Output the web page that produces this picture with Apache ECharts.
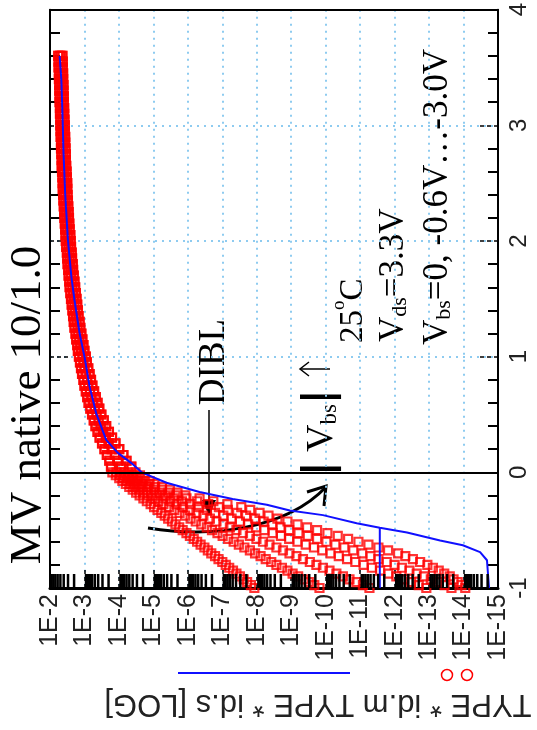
<!DOCTYPE html>
<html>
<head>
<meta charset="utf-8">
<script src="https://cdn.jsdelivr.net/npm/echarts@6/dist/echarts.min.js"></script>
<style>
    html, body { margin: 0; padding: 0; background: #fff; }
    #chart { width: 537px; height: 730px; }
</style>
</head>
<body>
<div id="chart"></div>
<script>
// Id-Vgs sweep, plotted turned on its side: Vgs runs up the right axis,
// log10(Id) runs along the bottom (1E-2 at the left, 1E-15 at the right)

// decades shown on the current axis (tick labels read 1E<n>)
var DECADES = [-2, -3, -4, -5, -6, -7, -8, -9, -10, -11, -12, -13, -14, -15];
var MINOR_MULT = [2, 3, 4, 5, 6, 7, 8, 9];

// gate sweep, on-state part (shared by all Vbs)
var VGS_ON = [3.6, 3.55, 3.5, 3.45, 3.4, 3.35, 3.3, 3.25, 3.2, 3.15, 3.1, 3.05, 3.0, 2.95, 2.9, 2.85, 2.8, 2.75,
    2.7, 2.65, 2.6, 2.55, 2.5, 2.45, 2.4, 2.35, 2.3, 2.25, 2.2, 2.15, 2.1, 2.05, 2.0, 1.95, 1.9, 1.85, 1.8, 1.75,
    1.7, 1.65, 1.6, 1.55, 1.5, 1.45, 1.4, 1.35, 1.3, 1.25, 1.2, 1.15, 1.1, 1.05, 1.0, 0.95, 0.9, 0.85, 0.8, 0.75,
    0.7, 0.65, 0.6, 0.55, 0.5, 0.45, 0.4, 0.35, 0.3, 0.25, 0.2, 0.15, 0.1, 0.05];
// gate sweep, sub-threshold part
var VGS_SUB = [0, -0.025, -0.05, -0.075, -0.1, -0.125, -0.15, -0.175, -0.2, -0.225, -0.25, -0.275, -0.3,
    -0.325, -0.35, -0.375, -0.4, -0.425, -0.45, -0.475, -0.5, -0.525, -0.55, -0.575, -0.6, -0.625, -0.65,
    -0.675, -0.7, -0.725, -0.75, -0.775, -0.8, -0.825, -0.85, -0.875, -0.9, -0.925, -0.95, -0.975, -1.0];

// measured id.m, log10(A), on-state: low |Vbs| / mid / high |Vbs|
var ON_HI = [-2.24, -2.25, -2.25, -2.26, -2.26, -2.27, -2.27, -2.28, -2.28, -2.29,
    -2.29, -2.30, -2.30, -2.31, -2.31, -2.32, -2.32, -2.33, -2.34, -2.34,
    -2.35, -2.36, -2.37, -2.37, -2.38, -2.39, -2.40, -2.41, -2.42, -2.43,
    -2.44, -2.45, -2.46, -2.47, -2.49, -2.50, -2.51, -2.53, -2.54, -2.56,
    -2.57, -2.59, -2.61, -2.63, -2.65, -2.67, -2.69, -2.71, -2.74, -2.76,
    -2.79, -2.81, -2.84, -2.87, -2.90, -2.93, -2.97, -3.00, -3.04, -3.08,
    -3.12, -3.17, -3.22, -3.27, -3.32, -3.38, -3.44, -3.51, -3.58, -3.65,
    -3.72, -3.77];
var ON_MID = [-2.30, -2.31, -2.31, -2.32, -2.32, -2.33, -2.33, -2.34, -2.34, -2.35,
    -2.35, -2.36, -2.36, -2.37, -2.37, -2.38, -2.38, -2.39, -2.40, -2.40,
    -2.41, -2.42, -2.43, -2.44, -2.44, -2.45, -2.46, -2.47, -2.48, -2.49,
    -2.50, -2.52, -2.53, -2.54, -2.56, -2.57, -2.58, -2.60, -2.61, -2.63,
    -2.65, -2.67, -2.69, -2.71, -2.73, -2.75, -2.77, -2.80, -2.82, -2.85,
    -2.88, -2.90, -2.94, -2.97, -3.00, -3.04, -3.08, -3.11, -3.16, -3.20,
    -3.25, -3.30, -3.35, -3.41, -3.47, -3.54, -3.62, -3.70, -3.79, -3.89,
    -3.97, -4.06];
var ON_LO = [-2.36, -2.37, -2.37, -2.38, -2.38, -2.39, -2.39, -2.40, -2.40, -2.41,
    -2.41, -2.42, -2.43, -2.43, -2.44, -2.44, -2.45, -2.46, -2.46, -2.47,
    -2.48, -2.49, -2.50, -2.50, -2.51, -2.52, -2.53, -2.54, -2.55, -2.56,
    -2.57, -2.59, -2.60, -2.61, -2.63, -2.64, -2.66, -2.67, -2.69, -2.71,
    -2.73, -2.75, -2.77, -2.79, -2.81, -2.83, -2.86, -2.88, -2.91, -2.94,
    -2.97, -3.00, -3.04, -3.07, -3.11, -3.15, -3.19, -3.23, -3.28, -3.33,
    -3.38, -3.43, -3.49, -3.56, -3.63, -3.71, -3.80, -3.90, -4.01, -4.13,
    -4.22, -4.36];

// measured id.m, log10(A), sub-threshold, one list per Vbs
var SUB_VBS0 = [-3.81, -3.91, -4.01, -4.10, -4.20, -4.30, -4.40, -4.50, -4.60, -4.71, -4.81, -4.92, -5.02,
    -5.12, -5.23, -5.33, -5.43, -5.54, -5.64, -5.75, -5.85, -5.96, -6.06, -6.17, -6.27, -6.37, -6.48,
    -6.58, -6.68, -6.79, -6.89, -7.00, -7.10, -7.20, -7.31, -7.41, -7.51, -7.62, -7.72, -7.83, -7.93];
var SUB_VBS06 = [-3.93, -4.03, -4.13, -4.23, -4.34, -4.46, -4.58, -4.70, -4.83, -4.98, -5.14, -5.29, -5.45,
    -5.61, -5.76, -5.92, -6.08, -6.23, -6.39, -6.55, -6.70, -6.86, -7.01, -7.17, -7.33, -7.48, -7.64,
    -7.80, -7.95, -8.11, -8.26, -8.42, -8.57, -8.73, -8.89, -9.04, -9.20, -9.36, -9.51, -9.67, -9.82];
var SUB_VBS12 = [-4.05, -4.16, -4.28, -4.39, -4.51, -4.65, -4.80, -4.94, -5.09, -5.28, -5.48, -5.67, -5.86,
    -6.06, -6.25, -6.45, -6.64, -6.83, -7.03, -7.22, -7.41, -7.60, -7.80, -7.99, -8.18, -8.37, -8.57,
    -8.76, -8.95, -9.15, -9.34, -9.54, -9.73, -9.92, -10.11, -10.31, -10.50, -10.69, -10.89, -11.08, -11.27];
var SUB_VBS18 = [-4.16, -4.29, -4.42, -4.55, -4.68, -4.85, -5.02, -5.18, -5.35, -5.59, -5.83, -6.07, -6.31,
    -6.55, -6.79, -7.03, -7.27, -7.51, -7.75, -7.98, -8.22, -8.46, -8.70, -8.94, -9.18, -9.42, -9.66,
    -9.90, -10.14, -10.38, -10.62, -10.86, -11.10, -11.34, -11.58, -11.82, -12.05, -12.27, -12.48, -12.70, -12.92];
var SUB_VBS24 = [-4.28, -4.42, -4.57, -4.71, -4.86, -5.05, -5.25, -5.44, -5.64, -5.96, -6.27, -6.59, -6.90,
    -7.16, -7.43, -7.69, -7.95, -8.20, -8.45, -8.69, -8.94, -9.21, -9.48, -9.75, -10.02, -10.28, -10.54,
    -10.80, -11.06, -11.30, -11.53, -11.77, -12.00, -12.21, -12.43, -12.64, -12.85, -13.05, -13.25, -13.45, -13.65];
var SUB_VBS30 = [-4.48, -4.61, -4.75, -4.89, -5.03, -5.25, -5.48, -5.70, -5.93, -6.34, -6.74, -7.15, -7.55,
    -7.81, -8.08, -8.34, -8.60, -8.89, -9.18, -9.46, -9.75, -10.05, -10.35, -10.65, -10.95, -11.24, -11.53,
    -11.81, -12.10, -12.31, -12.53, -12.74, -12.95, -13.11, -13.28, -13.44, -13.60, -13.71, -13.83, -13.94, -14.05];

// simulated id.s
var SIM_VGS = [3.60, 3.39, 3.02, 2.78, 2.41, 2.01, 1.69, 1.49, 1.20, 1.00, 0.74, 0.51, 0.28, 0.17, 0.08, 0.00,
    -0.09, -0.17, -0.23, -0.28, -0.33, -0.37, -0.44, -0.48, -0.52, -0.59, -0.63, -0.69, -0.76, -1.00];
var SIM_LOG = [-2.28, -2.33, -2.37, -2.39, -2.44, -2.52, -2.62, -2.71, -2.86, -3.00, -3.15, -3.34, -3.63, -3.96,
    -4.36, -4.66, -5.38, -6.34, -7.30, -8.29, -8.96, -9.92, -10.90, -11.57, -12.36, -13.32, -13.98, -14.48,
    -14.68, -14.74];
var SIM2_VGS = [-0.48, -1.00];
var SIM2_LOG = [-11.57, -11.57];

var SERIF = '"Liberation Serif", "Times New Roman", serif';
var SANS = '"Liberation Sans", Arial, sans-serif';

var pairs = function(logs, vgs) {
    var out = [];
    for (var i = 0; i < logs.length; i++) {
        out.push([logs[i], vgs[i]]);
    }
    return out;
};

// minor ticks at 2..9 inside each decade on the current axis
var minorTicks = [];
DECADES.forEach(function(d) {
    if (d === -2) return;
    MINOR_MULT.forEach(function(k) {
        minorTicks.push([d + Math.log10(k), -1]);
    });
});

var curves = [
    { name: 'Vbs=0', on: ON_HI, sub: SUB_VBS0 },
    { name: 'Vbs=-0.6', on: ON_HI, sub: SUB_VBS06 },
    { name: 'Vbs=-1.2', on: ON_MID, sub: SUB_VBS12 },
    { name: 'Vbs=-1.8', on: ON_MID, sub: SUB_VBS18 },
    { name: 'Vbs=-2.4', on: ON_LO, sub: SUB_VBS24 },
    { name: 'Vbs=-3.0', on: ON_LO, sub: SUB_VBS30 }
];

var series = [];

curves.forEach(function(c, i) {
    var s = {
        name: c.name,
        type: 'scatter',
        symbol: 'rect',
        symbolSize: 8,
        silent: true,
        z: 3,
        itemStyle: { color: 'rgba(0,0,0,0)', borderColor: '#ff0000', borderWidth: 2.2 },
        data: pairs(c.on, VGS_ON).concat(pairs(c.sub, VGS_SUB))
    };
    if (i === 0) {
        // Vgs = 0 reference line
        s.markLine = {
            silent: true,
            symbol: 'none',
            label: { show: false },
            lineStyle: { color: '#000', type: 'solid', width: 2 },
            data: [{ yAxis: 0 }]
        };
    }
    series.push(s);
});

series.push({
    name: 'id.s',
    type: 'line',
    showSymbol: false,
    silent: true,
    z: 4,
    lineStyle: { color: '#1010ff', width: 2 },
    data: pairs(SIM_LOG, SIM_VGS)
});
series.push({
    name: 'id.s floor',
    type: 'line',
    showSymbol: false,
    silent: true,
    z: 4,
    lineStyle: { color: '#1010ff', width: 2 },
    data: pairs(SIM2_LOG, SIM2_VGS)
});

series.push({
    name: 'minor',
    type: 'custom',
    silent: true,
    z: 5,
    data: minorTicks,
    renderItem: function(params, api) {
        var p = api.coord([api.value(0), api.value(1)]);
        return {
            type: 'line',
            shape: { x1: p[0], y1: p[1], x2: p[0], y2: p[1] - 14 },
            style: { stroke: '#000', lineWidth: 2.5 }
        };
    }
});

var vTicks = {
    inside: true,
    length: 20,
    lineStyle: { color: '#000', width: 1.5, type: [4, 3] }
};
var vMinor = {
    show: true,
    splitNumber: 5,
    length: 10,
    lineStyle: { color: '#000', width: 2 }
};

var option = {
    animation: false,
    backgroundColor: '#fff',
    grid: { left: 50, top: 9, width: 448, height: 579 },
    xAxis: [{
        type: 'value',
        min: -15,
        max: -2,
        interval: 1,
        inverse: true,
        position: 'bottom',
        axisLine: { onZero: false, lineStyle: { color: '#000', width: 3 } },
        axisTick: vTicks,
        axisLabel: {
            rotate: 90,
            margin: 6,
            fontSize: 25,
            fontFamily: SANS,
            color: '#222',
            padding: [0, 0, 12, 0],
            formatter: function(v) { return '1E' + v; }
        },
        splitLine: { show: true, lineStyle: { color: '#8ecbf0', width: 2, type: [2, 5] } }
    }, {
        type: 'value',
        min: -15,
        max: -2,
        inverse: true,
        position: 'top',
        axisLine: { onZero: false, lineStyle: { color: '#000', width: 2 } },
        axisTick: { show: false },
        axisLabel: { show: false },
        splitLine: { show: false }
    }],
    yAxis: [{
        type: 'value',
        min: -1,
        max: 4,
        interval: 1,
        position: 'right',
        axisLine: { show: true, onZero: false, lineStyle: { color: '#000', width: 2 } },
        axisTick: vTicks,
        minorTick: vMinor,
        axisLabel: { rotate: 90, margin: 9, fontSize: 24, fontFamily: SANS, color: '#222' },
        splitLine: { show: true, lineStyle: { color: '#8ecbf0', width: 2, type: [2, 5] } }
    }, {
        type: 'value',
        min: -1,
        max: 4,
        interval: 1,
        position: 'left',
        axisLine: { show: true, onZero: false, lineStyle: { color: '#000', width: 2 } },
        axisTick: vTicks,
        minorTick: vMinor,
        axisLabel: { show: false },
        splitLine: { show: false }
    }],
    graphic: [
        // title of the current axis, upside down as in the turned plot
        {
            type: 'text', x: 318, y: 704, rotation: Math.PI,
            style: { text: 'TYPE * id.m TYPE * id.s [LOG]', fontSize: 31, fontFamily: SANS, fill: '#222', align: 'center', verticalAlign: 'middle' }
        },
        { type: 'line', shape: { x1: 178, y1: 673, x2: 350, y2: 673 }, style: { stroke: '#1010ff', lineWidth: 2 } },
        { type: 'circle', shape: { cx: 447, cy: 675, r: 5.5 }, style: { fill: 'none', stroke: '#ff0000', lineWidth: 1.5 } },
        { type: 'circle', shape: { cx: 467, cy: 675, r: 5.5 }, style: { fill: 'none', stroke: '#ff0000', lineWidth: 1.5 } },
        {
            type: 'text', x: 28, y: 405, rotation: Math.PI / 2,
            style: { text: 'MV native 10/1.0', fontSize: 45, fontFamily: SERIF, fill: '#000', align: 'center', verticalAlign: 'middle' }
        },
        {
            type: 'text', x: 214, y: 362, rotation: Math.PI / 2,
            style: { text: 'DIBL', fontSize: 37, fontFamily: SERIF, fill: '#000', align: 'center', verticalAlign: 'middle' }
        },
        { type: 'line', shape: { x1: 209, y1: 410, x2: 209, y2: 502 }, style: { stroke: '#000', lineWidth: 1.5 } },
        { type: 'polygon', shape: { points: [[202, 500], [216, 500], [209, 516]] }, style: { fill: '#000' } },
        {
            type: 'bezierCurve',
            shape: { x1: 148, y1: 528, cpx1: 210, cpy1: 538, cpx2: 285, cpy2: 530, x2: 326, y2: 487 },
            style: { stroke: '#000', lineWidth: 3, fill: 'none' }
        },
        { type: 'polyline', shape: { points: [[307, 492], [326, 486], [324, 506]] }, style: { stroke: '#000', lineWidth: 3, fill: 'none' } },
        {
            type: 'text', x: 319, y: 476, rotation: Math.PI / 2,
            style: {
                text: '{b||}{n| V}{s|bs}{b||}',
                align: 'left', verticalAlign: 'middle',
                rich: {
                    n: { fontSize: 38, fontFamily: SERIF, fill: '#000', lineHeight: 44, verticalAlign: 'bottom' },
                    b: { fontSize: 40, fontFamily: '"DejaVu Sans"', fontWeight: 'bold', fill: '#000', lineHeight: 44, verticalAlign: 'bottom' },
                    s: { fontSize: 23, fontFamily: SERIF, fill: '#000', lineHeight: 22, verticalAlign: 'bottom' }
                }
            }
        },
        // "|Vbs| increases" arrow
        { type: 'line', shape: { x1: 300, y1: 369, x2: 330, y2: 369 }, style: { stroke: '#000', lineWidth: 1.5 } },
        { type: 'polyline', shape: { points: [[309, 362], [300, 369], [309, 376]] }, style: { stroke: '#000', lineWidth: 1.5, fill: 'none' } },
        {
            type: 'text', x: 350, y: 343, rotation: Math.PI / 2,
            style: {
                text: '{n|25}{o|o}{n|C}',
                align: 'left', verticalAlign: 'middle',
                rich: {
                    n: { fontSize: 33, fontFamily: SERIF, fill: '#000', lineHeight: 40, verticalAlign: 'bottom' },
                    o: { fontSize: 19, fontFamily: SERIF, fill: '#000', lineHeight: 20, verticalAlign: 'top' }
                }
            }
        },
        {
            type: 'text', x: 391, y: 342, rotation: Math.PI / 2,
            style: {
                text: '{n|V}{s|ds}{n|=3.3V}',
                align: 'left', verticalAlign: 'middle',
                rich: {
                    n: { fontSize: 35, fontFamily: SERIF, fill: '#000', lineHeight: 40, verticalAlign: 'bottom' },
                    s: { fontSize: 22, fontFamily: SERIF, fill: '#000', lineHeight: 20, verticalAlign: 'bottom' }
                }
            }
        },
        {
            type: 'text', x: 435, y: 345, rotation: Math.PI / 2,
            style: {
                text: '{n|V}{s|bs}{n|=0, -0.6V\u2026-3.0V}',
                align: 'left', verticalAlign: 'middle',
                rich: {
                    n: { fontSize: 35, fontFamily: SERIF, fill: '#000', lineHeight: 40, verticalAlign: 'bottom' },
                    s: { fontSize: 22, fontFamily: SERIF, fill: '#000', lineHeight: 20, verticalAlign: 'bottom' }
                }
            }
        }
    ],
    series: series
};

var myChart = echarts.init(document.getElementById('chart'));
myChart.setOption(option);
</script>
</body>
</html>
